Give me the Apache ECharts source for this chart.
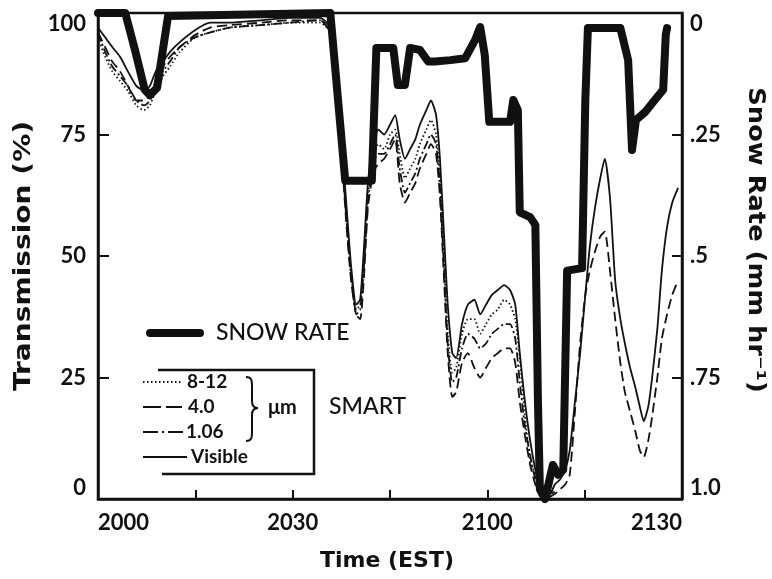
<!DOCTYPE html>
<html>
<head>
<meta charset="utf-8">
<script src="https://cdn.jsdelivr.net/npm/echarts/dist/echarts.min.js"></script>
<style>
  html, body { margin: 0; padding: 0; background: #fff; }
  #chart { width: 772px; height: 579px; }
</style>
</head>
<body>
<div id="chart"></div>
<script>
// Time is in minutes after 2000 EST; transmission in %, snow rate in mm/hr.
const timeTickLabels = { 0: '2000', 30: '2030', 60: '2100', 90: '2130' };
const rateTickLabels = { 0: '0', 0.25: '.25', 0.5: '.5', 0.75: '.75', 1: '1.0' };

// Snow rate record
const snowTime = [0, 4.2, 5.7, 7.2, 8.0, 9.1, 10.0, 10.8, 35.8, 38.1, 42.2, 42.9, 45.5, 46.2, 47.3, 48.1,
  49.6, 50.9, 51.9, 54.3, 56.6, 58.1, 58.9, 59.6, 60.3, 63.5, 64.0, 64.7, 65.0, 66.6, 67.4, 67.8, 68.1,
  68.9, 70.1, 70.9, 71.7, 72.3, 74.6, 75.1, 75.5, 80.5, 81.7, 82.3, 82.9, 84.3, 85.8, 87.1, 87.5, 87.7];
const snowRate = [0, 0, 0.076, 0.158, 0.169, 0.154, 0.076, 0.006, 0, 0.345, 0.345, 0.072, 0.072, 0.148, 0.148, 0.072,
  0.076, 0.10, 0.10, 0.097, 0.093, 0.056, 0.029, 0.086, 0.224, 0.224, 0.179, 0.20, 0.41, 0.42, 0.436, 0.80, 0.98,
  1.0, 0.93, 0.95, 0.94, 0.53, 0.525, 0.18, 0.031, 0.031, 0.097, 0.282, 0.22, 0.204, 0.179, 0.158, 0.045, 0.031];

// SMART transmissometer sample times (minutes)
const smartTime = [0, 1.1, 2.2, 3.4, 4.6, 5.9, 7.1, 8.0, 8.9, 10.0,
  11.1, 12.6, 15.0, 17.3, 20.3, 25.0, 29.6, 34.2, 35.8, 36.7,
  37.5, 38.2, 39.0, 39.8, 40.4, 41.0, 41.6, 42.4, 43.2, 44.1,
  45.0, 45.8, 46.5, 47.3, 48.1, 48.9, 49.6, 50.6, 51.3, 52.1,
  52.7, 53.3, 53.9, 54.6, 55.2, 56.1, 57.0, 58.0, 58.9, 59.8,
  60.7, 61.6, 62.6, 63.5, 64.3, 65.0, 65.8, 66.6, 67.4, 68.1,
  68.9, 69.7, 70.4, 71.2, 72.0, 72.7, 73.5, 74.3, 75.1, 75.8,
  76.6, 77.4, 78.1, 78.9, 79.7, 80.5, 81.2, 82.0, 82.8, 83.5,
  84.1, 84.8, 85.4, 86.2, 86.9, 87.7, 88.5, 89.4];

const visible = [97, 95, 93, 91, 88, 85, 84, 85, 88, 90,
  92, 94, 96.5, 98, 98, 98.5, 99, 99, 97, 88,
  75, 62, 48, 40, 41, 52, 65, 73, 76, 75,
  77, 79, 74, 70, 72, 74, 77, 80, 82, 79,
  70, 55, 40, 30, 29, 36, 40, 41, 38, 40,
  42, 43, 44, 43, 40, 30, 20, 12, 6, 2,
  0.5, 1, 3, 4, 6, 10, 20, 30, 42, 52,
  60, 66, 70, 62, 45, 37, 32, 27, 23, 19,
  16, 19, 25, 35, 47, 56, 61, 64];

const band4_0 = [96, 93, 90, 88, 85, 82, 82, 83, 86, 89,
  91, 93, 95.5, 97, 97.5, 98, 98.5, 98.5, 96, 86,
  72, 58, 45, 38, 37, 46, 60, 67, 69, 70,
  72, 74, 65, 61, 63, 65, 68, 71, 73, 71,
  62, 46, 30, 21, 22, 28, 30, 27, 25, 27,
  29, 30, 31, 31, 28, 20, 13, 7, 3, 1,
  0, 0.5, 1, 2, 3, 5, 18, 32, 42, 47,
  51, 54, 55, 47, 37, 28, 22, 18, 14, 10,
  8.6, 12, 17, 25, 33, 38, 42, 45];

const band8_12 = [95, 91, 88, 86, 84, 81, 80, 81, 84, 87,
  89, 92, 95, 96, 97, 97.5, 98, 98, 96, 87,
  74, 60, 46, 39, 40, 50, 63, 70, 73, 72,
  75, 76, 71, 66, 68, 70, 73, 76, 78, 75,
  66, 50, 34, 26, 27, 34, 37, 37, 34, 36,
  38, 39, 41, 40, 37, 29, 17, 8, 5, 3,
  2, 1.5, 2];

const band1_06 = [96, 92, 89, 87, 85, 82, 81, 82, 85, 88,
  90, 93, 95, 96, 97, 97.5, 98, 98.5, 96, 87,
  73, 59, 46, 38, 39, 48, 61, 69, 71, 71,
  73, 75, 68, 63, 65, 67, 70, 73, 75, 73,
  64, 48, 32, 24, 25, 31, 34, 33, 31, 32,
  34, 35, 36, 36, 33, 24, 15, 9, 4, 2,
  1, 1, 1.5];

function pairs(times, values) {
  return values.map((v, i) => [times[i], v]);
}

const FONT = 'Lato, "Liberation Sans", Arial, sans-serif';
const TITLE_FONT = '"DejaVu Sans", Lato, sans-serif';
const INK = '#111';

function thinSeries(name, values, type) {
  return {
    name, type: 'line', yAxisIndex: 0, data: pairs(smartTime, values),
    showSymbol: false, smooth: 0.2, z: 3,
    lineStyle: { color: INK, width: 1.8, type }
  };
}

const chart = echarts.init(document.getElementById('chart'), null, { renderer: 'canvas' });

// Legend block drawn as plain graphics inside the plot
const legendY = { s: 382, d: 407, dd: 432, v: 457 };
const graphics = [
  // Snow rate key
  { type: 'line', shape: { x1: 150, y1: 333, x2: 200, y2: 333 }, style: { stroke: INK, lineWidth: 8, lineCap: 'round' } },
  { type: 'text', x: 216, y: 333, style: { text: 'SNOW RATE', font: '500 23px ' + FONT, fill: INK, verticalAlign: 'middle' } },
  // Box around SMART keys (open on the left)
  { type: 'polyline', shape: { points: [[158, 370], [314, 370], [314, 474], [162, 474]] }, style: { stroke: INK, lineWidth: 2.5, fill: null } },
  { type: 'line', shape: { x1: 143, y1: legendY.s, x2: 183, y2: legendY.s }, style: { stroke: INK, lineWidth: 1.8, lineDash: [1.5, 2.5] } },
  { type: 'line', shape: { x1: 143, y1: legendY.d, x2: 182, y2: legendY.d }, style: { stroke: INK, lineWidth: 2, lineDash: [18, 5] } },
  { type: 'line', shape: { x1: 143, y1: legendY.dd, x2: 184, y2: legendY.dd }, style: { stroke: INK, lineWidth: 2, lineDash: [15, 4, 2, 4] } },
  { type: 'line', shape: { x1: 143, y1: legendY.v, x2: 187, y2: legendY.v }, style: { stroke: INK, lineWidth: 2 } },
  { type: 'text', x: 187, y: legendY.s, style: { text: '8-12', font: 'bold 19px ' + FONT, fill: INK, verticalAlign: 'middle' } },
  { type: 'text', x: 188, y: legendY.d, style: { text: '4.0', font: 'bold 19px ' + FONT, fill: INK, verticalAlign: 'middle' } },
  { type: 'text', x: 186, y: legendY.dd, style: { text: '1.06', font: 'bold 19px ' + FONT, fill: INK, verticalAlign: 'middle' } },
  { type: 'text', x: 191, y: legendY.v, style: { text: 'Visible', font: 'bold 19px ' + FONT, fill: INK, verticalAlign: 'middle' } },
  // Brace grouping the three infrared/near-IR bands
  { type: 'bezierCurve', shape: { x1: 246, y1: 377, cpx1: 252, cpy1: 377, cpx2: 252, cpy2: 381, x2: 252, y2: 386 }, style: { stroke: INK, lineWidth: 2, fill: null } },
  { type: 'line', shape: { x1: 252, y1: 386, x2: 252, y2: 401 }, style: { stroke: INK, lineWidth: 2 } },
  { type: 'bezierCurve', shape: { x1: 252, y1: 401, cpx1: 252, cpy1: 406, cpx2: 254, cpy2: 408, x2: 258, y2: 408 }, style: { stroke: INK, lineWidth: 2, fill: null } },
  { type: 'bezierCurve', shape: { x1: 258, y1: 408, cpx1: 254, cpy1: 408, cpx2: 252, cpy2: 410, x2: 252, y2: 415 }, style: { stroke: INK, lineWidth: 2, fill: null } },
  { type: 'line', shape: { x1: 252, y1: 415, x2: 252, y2: 432 }, style: { stroke: INK, lineWidth: 2 } },
  { type: 'bezierCurve', shape: { x1: 252, y1: 432, cpx1: 252, cpy1: 437, cpx2: 252, cpy2: 441, x2: 246, y2: 441 }, style: { stroke: INK, lineWidth: 2, fill: null } },
  { type: 'text', x: 268, y: 408, style: { text: 'μm', font: 'bold 20px ' + FONT, fill: INK, verticalAlign: 'middle' } },
  { type: 'text', x: 329, y: 407, style: { text: 'SMART', font: '500 23px ' + FONT, fill: INK, verticalAlign: 'middle' } },
  // Axis titles (wide lettering, stretched along the baseline)
  { type: 'text', x: 24, y: 256, rotation: Math.PI / 2, scaleX: 1.22, style: { text: 'Transmission (%)', font: 'bold 23px ' + TITLE_FONT, fill: INK, align: 'center', verticalAlign: 'middle' } },
  { type: 'text', x: 755, y: 240, rotation: -Math.PI / 2, scaleX: 1.12, style: { text: 'Snow Rate (mm hr⁻¹)', font: 'bold 23px ' + TITLE_FONT, fill: INK, align: 'center', verticalAlign: 'middle' } },
  { type: 'text', x: 387, y: 561, style: { text: 'Time (EST)', font: 'bold 22px ' + TITLE_FONT, fill: INK, align: 'center', verticalAlign: 'middle' } }
];

chart.setOption({
  animation: false,
  backgroundColor: '#fff',
  grid: { left: 98, right: 90, top: 13, bottom: 80, show: true, borderColor: INK, borderWidth: 2.5, backgroundColor: 'transparent' },
  xAxis: {
    type: 'value', min: 0, max: 90, interval: 15,
    axisLine: { show: true, lineStyle: { color: INK, width: 2.5 } },
    axisTick: { show: true, inside: true, length: 9, lineStyle: { color: INK, width: 2 } },
    splitLine: { show: false },
    axisLabel: {
      formatter: v => timeTickLabels[v] || '', color: INK, fontFamily: FONT, fontWeight: 'bold', fontSize: 22, margin: 13,
      alignMinLabel: 'left', alignMaxLabel: 'right', showMinLabel: true, showMaxLabel: true
    }
  },
  yAxis: [
    {
      type: 'value', min: 0, max: 100, interval: 25, position: 'left',
      axisLine: { show: true, lineStyle: { color: INK, width: 2.5 } },
      axisTick: { show: true, inside: true, length: 11, lineStyle: { color: INK, width: 2 } },
      splitLine: { show: false },
      axisLabel: {
        color: INK, fontFamily: FONT, fontWeight: 'bold', fontSize: 22, margin: 12,
        verticalAlignMinLabel: 'bottom', verticalAlignMaxLabel: 'top'
      }
    },
    {
      type: 'value', min: 0, max: 1, interval: 0.25, position: 'right', inverse: true,
      axisLine: { show: true, lineStyle: { color: INK, width: 2.5 } },
      axisTick: { show: true, inside: true, length: 10, lineStyle: { color: INK, width: 2 } },
      splitLine: { show: false },
      axisLabel: {
        formatter: v => rateTickLabels[v] !== undefined ? rateTickLabels[v] : '',
        color: INK, fontFamily: FONT, fontWeight: 'bold', fontSize: 22, margin: 8,
        verticalAlignMinLabel: 'top', verticalAlignMaxLabel: 'bottom'
      }
    }
  ],
  series: [
    thinSeries('8-12 μm', band8_12, [1.5, 2.5]),
    thinSeries('4.0 μm', band4_0, [10, 5]),
    thinSeries('1.06 μm', band1_06, [9, 3, 2, 3]),
    thinSeries('Visible', visible, 'solid'),
    {
      name: 'Snow rate', type: 'line', yAxisIndex: 1, data: pairs(snowTime, snowRate),
      showSymbol: false, clip: false, z: 5,
      lineStyle: { color: INK, width: 8, join: 'round', cap: 'round' }
    }
  ],
  graphic: graphics
});
</script>
</body>
</html>
